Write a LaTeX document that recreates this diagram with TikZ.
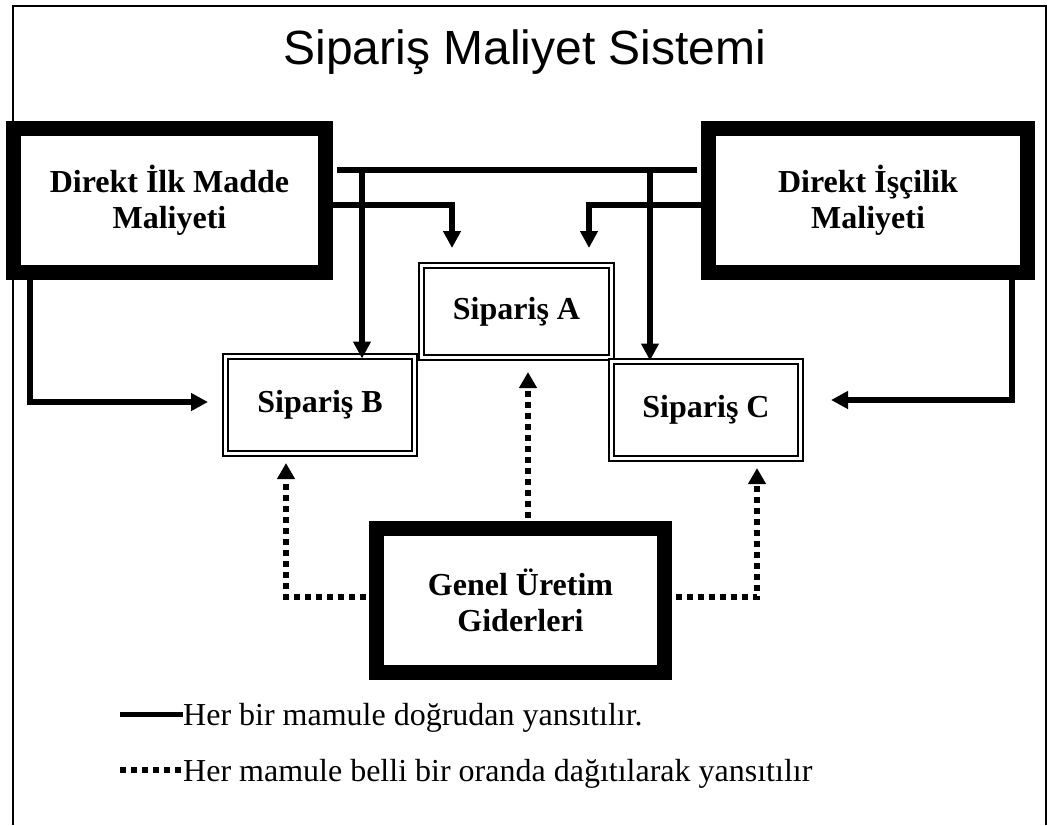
\documentclass[tikz,border=0pt]{standalone}
\usepackage{fontspec}
\setmainfont{Liberation Serif}
\newfontfamily\titlefamily{Liberation Sans}
\usetikzlibrary{arrows.meta}
\newcommand{\cellfont}{\fontsize{32}{36}\selectfont\bfseries}
\newcommand{\legfont}{\fontsize{32}{36}\selectfont}
\begin{document}
\begin{tikzpicture}[x=1pt,y=-1pt,
  heavybox/.style={draw, line width=15pt, fill=white, inner sep=0pt, outer sep=0pt,
                   align=center, font=\cellfont},
  orderbox/.style={draw, line width=2pt, double, double distance=3pt, fill=white,
                   inner sep=0pt, outer sep=0pt, align=center, font=\cellfont},
  wire/.style={line width=6pt},
  conn/.style={wire, -{Triangle[length=17pt,width=17pt]}},
  spread/.style={line width=6pt, dash pattern=on 6pt off 5pt,
                 -{Triangle[length=16pt,width=17pt]}},
  spreadswatch/.style={line width=6pt, dash pattern=on 6pt off 5pt},
]
\useasboundingbox (0,0) rectangle (1048,825);
\fill[white] (0,0) rectangle (1048,825);

% page frame (open at the bottom)
\draw[line width=2pt] (13,825) -- (13,6) -- (1046,6) -- (1046,825);

% title
\node[font=\titlefamily\fontsize{48}{52}\selectfont, anchor=base] (title) at (525,64)
  {Sipariş Maliyet Sistemi};

% cost sources
\node[heavybox, minimum width=312pt, minimum height=144pt] (dim) at (169.5,200.5)
  {Direkt İlk Madde\\Maliyeti};
\node[heavybox, minimum width=319pt, minimum height=144pt] (dil) at (868,200.5)
  {Direkt İşçilik\\Maliyeti};
\node[heavybox, minimum width=288pt, minimum height=144pt] (gen) at (520.5,600.5)
  {Genel Üretim\\Giderleri};

% orders
\node[orderbox, minimum width=190pt, minimum height=92pt] (A) at (516.5,311.5) {Sipariş A};
\node[orderbox, minimum width=189pt, minimum height=97pt] (B) at (320,405) {Sipariş B};
\node[orderbox, minimum width=189pt, minimum height=97pt] (C) at (706,410) {Sipariş C};

% routing points
\coordinate (bus) at (0,170);
\coordinate (dropB) at (362,170);
\coordinate (dropC) at (650,170);
\coordinate (turnL) at (452,205);
\coordinate (tipAL) at (452,248);
\coordinate (turnR) at (589,205);
\coordinate (tipAR) at (589,248);
\coordinate (cornerL) at (30,402);
\coordinate (tipB) at (208,402);
\coordinate (cornerR) at (1012,400);
\coordinate (tipC) at (831,400);
\coordinate (upA) at (528,372);
\coordinate (cornerGL) at (286,597);
\coordinate (tipGB) at (286,463);
\coordinate (cornerGR) at (757,597);
\coordinate (tipGC) at (757,468);

% direct costs
\draw[wire, shorten <=11.5pt, shorten >=11.5pt] (bus -| dim.east) -- (bus -| dil.west);
\draw[conn, shorten >=-2pt] (dropB) -- (dropB |- B.north);
\draw[conn, shorten >=1pt] (dropC) -- (dropC |- C.north);
\draw[conn] (turnL -| dim.east) -- (turnL) -- (tipAL);
\draw[conn] (turnR -| dil.west) -- (turnR) -- (tipAR);
\draw[conn] (cornerL |- dim.south) -- (cornerL) -- (tipB);
\draw[conn] (cornerR |- dil.south) -- (cornerR) -- (tipC);

% overhead allocation
\draw[spread] (upA |- gen.north) -- (upA);
\draw[spread] (cornerGL -| gen.west) -- (cornerGL) -- (tipGB);
\draw[spread] (cornerGR -| gen.east) -- (cornerGR) -- (tipGC);

% legend
\node[anchor=base west, font=\legfont, inner sep=0pt] (leg1) at (183,725)
  {Her bir mamule doğrudan yansıtılır.};
\node[anchor=base west, font=\legfont, inner sep=0pt] (leg2) at (183,781)
  {Her mamule belli bir oranda dağıtılarak yansıtılır};
\coordinate (sw1) at (120,714);
\coordinate (sw2) at (120,770);
\draw[line width=5pt] (sw1) -- (sw1 -| leg1.west);
\draw[spreadswatch] (sw2) -- (sw2 -| leg2.west);
\end{tikzpicture}
\end{document}
